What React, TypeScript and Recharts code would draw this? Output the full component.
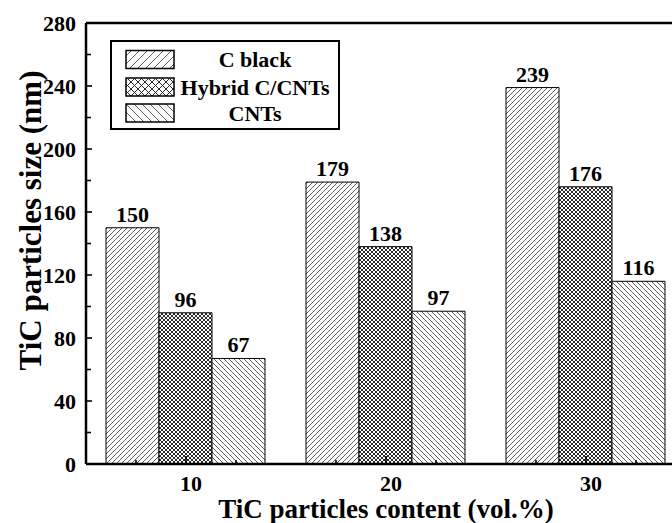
import React from "react";
import {
  BarChart,
  Bar,
  XAxis,
  YAxis,
  ReferenceLine,
  LabelList,
} from "recharts";

const contents = ["10", "20", "30"];
const cBlack = [150, 179, 239];
const hybrid = [96, 138, 176];
const cnts = [67, 97, 116];
const yTicks = [0, 20, 40, 60, 80, 100, 120, 140, 160, 180, 200, 220, 240, 260, 280];
const seriesNames = ["C black", "Hybrid C/CNTs", "CNTs"];

const data = contents.map((c, i) => ({
  content: c,
  cBlack: cBlack[i],
  hybrid: hybrid[i],
  cnts: cnts[i],
}));

const FONT = '"Liberation Serif", "Times New Roman", serif';
const CHART_W = 700;
const CHART_H = 523;
const MARGIN = { top: 23, right: 14, left: 0, bottom: 0 };
const Y_AXIS_W = 86;
const X_AXIS_H = 59;
const PLOT_W = CHART_W - MARGIN.right - MARGIN.left - Y_AXIS_W;
const BAND = PLOT_W / contents.length;

// hatch fills: "////", cross-hatch, "\\\\"
function Hatches({ prefix, step, crossStep }: { prefix: string; step: number; crossStep: number }) {
  const s = step;
  const c = crossStep;
  return (
    <defs>
      <pattern id={`${prefix}-fwd`} patternUnits="userSpaceOnUse" width={s} height={s}>
        <rect width={s} height={s} fill="#fff" />
        <path
          d={`M0,${s} L${s},0 M${-s / 2},${s / 2} L${s / 2},${-s / 2} M${s / 2},${s * 1.5} L${s * 1.5},${s / 2}`}
          stroke="#333"
          strokeWidth={0.8}
        />
      </pattern>
      <pattern id={`${prefix}-back`} patternUnits="userSpaceOnUse" width={s} height={s}>
        <rect width={s} height={s} fill="#fff" />
        <path
          d={`M0,0 L${s},${s} M${-s / 2},${s / 2} L${s / 2},${s * 1.5} M${s / 2},${-s / 2} L${s * 1.5},${s / 2}`}
          stroke="#333"
          strokeWidth={0.8}
        />
      </pattern>
      <pattern id={`${prefix}-cross`} patternUnits="userSpaceOnUse" width={c} height={c}>
        <rect width={c} height={c} fill="#fff" />
        <path d={`M0,${c} L${c},0 M0,0 L${c},${c}`} stroke="#2a2a2a" strokeWidth={1} />
      </pattern>
    </defs>
  );
}

const fills = ["fwd", "cross", "back"];

function YTick(props: any) {
  const { x, y, payload } = props;
  const axisX = x + 10;
  const major = payload.value % 40 === 0;
  return (
    <g>
      <line x1={axisX} x2={axisX + (major ? 6 : 5)} y1={y} y2={y} stroke="#000" strokeWidth={1.6} />
      {major && (
        <text
          x={x}
          y={y}
          dy={8}
          textAnchor="end"
          fontFamily={FONT}
          fontWeight="bold"
          fontSize={22}
          fill="#000"
        >
          {payload.value}
        </text>
      )}
    </g>
  );
}

function XTick(props: any) {
  const { x, y, payload } = props;
  const q = BAND / 4;
  return (
    <g>
      <line x1={x} x2={x} y1={y} y2={y - 8} stroke="#000" strokeWidth={1.6} />
      <line x1={x - q} x2={x - q} y1={y} y2={y - 4} stroke="#000" strokeWidth={1.6} />
      <line x1={x + q} x2={x + q} y1={y} y2={y - 4} stroke="#000" strokeWidth={1.6} />
      <text
        x={x + 5}
        y={y}
        dy={27}
        textAnchor="middle"
        fontFamily={FONT}
        fontWeight="bold"
        fontSize={22}
        fill="#000"
      >
        {payload.value}
      </text>
    </g>
  );
}

function YTitle(props: any) {
  const vb = props.viewBox;
  const cx = 30;
  const cy = vb.y + vb.height / 2 - 23;
  return (
    <text
      x={cx}
      y={cy}
      transform={`rotate(-90 ${cx} ${cy})`}
      textAnchor="middle"
      dominantBaseline="central"
      fontFamily={FONT}
      fontWeight="bold"
      fontSize={31}
      fill="#000"
    >
      TiC particles size (nm)
    </text>
  );
}

function LegendBox() {
  const rows = [19.5, 47, 73];
  return (
    <svg
      width={230}
      height={90}
      style={{ position: "absolute", left: 110, top: 40 }}
    >
      <Hatches prefix="lg" step={8} crossStep={7} />
      <rect x={1} y={1} width={228} height={88} fill="#fff" stroke="#000" strokeWidth={2} />
      {seriesNames.map((name, i) => (
        <g key={name}>
          <rect
            x={16}
            y={rows[i] - 9}
            width={48}
            height={18}
            fill={`url(#lg-${fills[i]})`}
            stroke="#000"
            strokeWidth={1.5}
          />
          <text
            x={145}
            y={rows[i]}
            dy={7.5}
            textAnchor="middle"
            fontFamily={FONT}
            fontWeight="bold"
            fontSize={22}
            fill="#000"
          >
            {name}
          </text>
        </g>
      ))}
    </svg>
  );
}

export default function App() {
  return (
    <div
      style={{
        position: "absolute",
        left: 0,
        top: 0,
        width: 672,
        height: 523,
        overflow: "hidden",
        background: "#fff",
      }}
    >
      <BarChart
        width={CHART_W}
        height={CHART_H}
        data={data}
        margin={MARGIN}
        barCategoryGap="10%"
        barGap={0}
      >
        <Hatches prefix="bar" step={5} crossStep={4} />
        <XAxis
          dataKey="content"
          height={X_AXIS_H}
          tickSize={0}
          tickMargin={0}
          tick={<XTick />}
          axisLine={{ stroke: "#000", strokeWidth: 2.5 }}
          label={{
            value: "TiC particles content (vol.%)",
            position: "insideBottom",
            offset: 5,
            style: {
              fontFamily: FONT,
              fontWeight: "bold",
              fontSize: 27,
              fill: "#000",
            },
          }}
        />
        <YAxis
          type="number"
          domain={[0, 280]}
          ticks={yTicks}
          interval={0}
          width={Y_AXIS_W}
          tickSize={0}
          tickMargin={10}
          tick={<YTick />}
          axisLine={{ stroke: "#000", strokeWidth: 2.5 }}
          label={{ content: <YTitle /> }}
        />
        <ReferenceLine y={280} stroke="#000" strokeWidth={2.5} />
        {["cBlack", "hybrid", "cnts"].map((key, i) => (
          <Bar
            key={key}
            dataKey={key}
            name={seriesNames[i]}
            fill={`url(#bar-${fills[i]})`}
            stroke="#000"
            strokeWidth={1}
            isAnimationActive={false}
          >
            <LabelList
              dataKey={key}
              position="top"
              offset={6}
              style={{
                fontFamily: FONT,
                fontWeight: "bold",
                fontSize: 22,
                fill: "#000",
              }}
            />
          </Bar>
        ))}
      </BarChart>
      <LegendBox />
    </div>
  );
}
